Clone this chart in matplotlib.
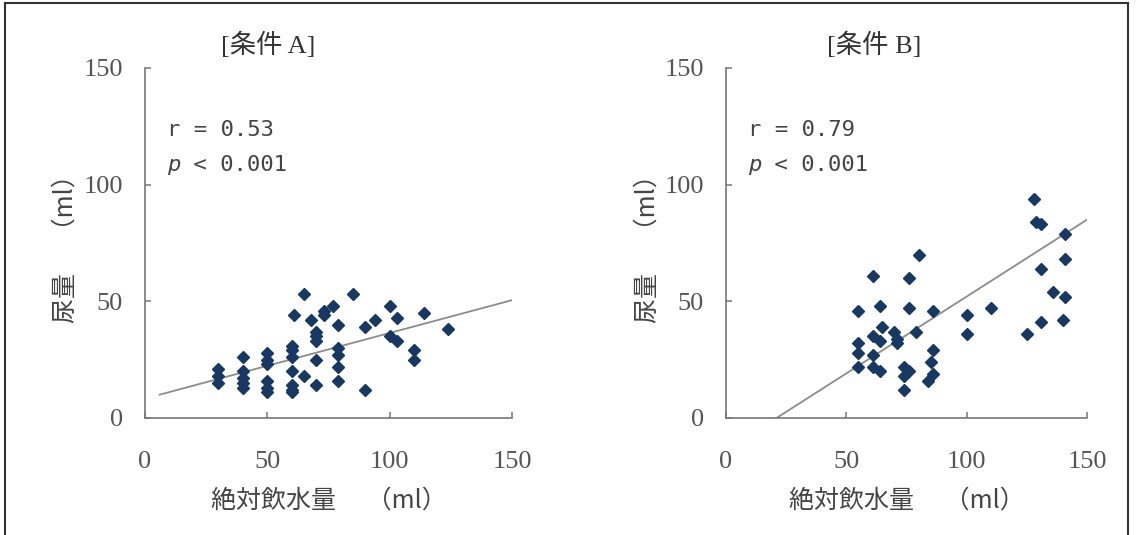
import matplotlib
matplotlib.use('Agg')
import matplotlib.pyplot as plt
from matplotlib.lines import Line2D
from matplotlib.transforms import offset_copy

plt.rcParams['font.family'] = ['Noto Sans CJK JP', 'DejaVu Sans']

# 条件A の散布データ (絶対飲水量, 尿量)
a_x = [30, 30, 30,
       40, 40, 40, 40, 40,
       50, 50, 50, 50, 50, 50,
       60, 60, 60, 60, 60, 60, 60, 61,
       65, 65, 68,
       70, 70, 70, 70, 70,
       73, 73, 77,
       79, 79, 79, 79, 79,
       85, 90, 90, 94,
       100, 100, 103, 103,
       110, 110, 114, 124]
a_y = [21, 18, 15,
       26, 20, 17, 15, 13,
       28, 25, 23, 16, 13, 11,
       31, 29, 26, 20, 14, 12, 11, 44,
       53, 18, 42,
       37, 35, 33, 25, 14,
       46, 44, 48,
       40, 30, 27, 22, 16,
       53, 39, 12, 42,
       48, 35, 43, 33,
       29, 25, 45, 38]
a_line_x = [6, 150]
a_line_y = [10, 50.5]

# 条件B
b_x = [55, 55, 55, 55,
       61, 61, 61, 61,
       64, 65, 64, 64,
       70, 71, 71,
       74, 76, 74, 74,
       76, 76, 79, 80,
       86, 86, 85, 86, 84,
       100, 100, 110,
       125, 128, 129, 131, 131, 131, 136,
       141, 141, 141, 140]
b_y = [46, 32, 28, 22,
       61, 35, 27, 22,
       48, 39, 33, 20,
       37, 34, 32,
       22, 20, 18, 12,
       60, 47, 37, 70,
       46, 29, 24, 19, 16,
       44, 36, 47,
       36, 94, 84, 83, 64, 41, 54,
       79, 68, 52, 42]
b_line_x = [21, 150]
b_line_y = [0, 85]

ticks = [0, 50, 100, 150]
W, H = 1136, 535

fig = plt.figure(figsize=(W / 100, H / 100), dpi=100)


def panel(left_px, right_px, xs, ys, lx, ly, r_text, title, title_px):
    ax = fig.add_axes([left_px / W, (H - 418) / H, (right_px - left_px) / W, 350 / H])
    ax.plot(lx, ly, color='#8c8c8c', lw=1.3, zorder=2)
    ax.plot(xs, ys, 'D', color='#163862', markersize=6, linestyle='none', zorder=3)
    ax.set_xlim(0, 150)
    ax.set_ylim(0, 150)
    ax.set_xticks(ticks)
    ax.set_yticks(ticks)
    for s in ['top', 'right']:
        ax.spines[s].set_visible(False)
    for s in ['left', 'bottom']:
        ax.spines[s].set_color('#777777')
        ax.spines[s].set_linewidth(1.2)
    ax.tick_params(direction='in', length=4, width=1.1, color='#777777',
                   labelsize=19, labelcolor='#555555')
    ax.tick_params(axis='y', pad=16)
    ax.tick_params(axis='x', pad=24)
    for lab in ax.get_xticklabels() + ax.get_yticklabels():
        lab.set_fontfamily('Liberation Serif')

    ax.set_xlabel('絶対飲水量　 （ml）', fontsize=18, color='#444444')
    ax.xaxis.set_label_coords(0.5, -0.2)
    ax.set_ylabel('尿量　 （ml）', fontsize=18, color='#444444')
    ax.yaxis.set_label_coords(-0.18, 0.5)

    # 相関係数
    ax.text(9, 123.4, r_text, family='DejaVu Sans Mono', fontsize=16,
            va='center', color='#444444')
    ax.text(9, 108.4, 'p', family='DejaVu Sans Mono', style='italic',
            fontsize=16, va='center', color='#444444')
    tr = offset_copy(ax.transData, fig=fig, x=0.602 * 16, y=0, units='points')
    ax.text(9, 108.4, ' < 0.001', family='DejaVu Sans Mono', fontsize=16,
            va='center', color='#444444', transform=tr)

    fig.text(title_px / W, 1 - 45 / H, title, fontsize=19, color='#333333',
             family=['Liberation Serif', 'Noto Sans CJK JP'],
             ha='center', va='center')
    return ax


panel(145, 512, a_x, a_y, a_line_x, a_line_y, 'r = 0.53', '[条件 A]', 268)
panel(726, 1087, b_x, b_y, b_line_x, b_line_y, 'r = 0.79', '[条件 B]', 874)

# 外枠
bc = '#333333'
fig.add_artist(Line2D([5 / W, 5 / W], [0, 1 - 3 / H], transform=fig.transFigure, color=bc, lw=1.5))
fig.add_artist(Line2D([5 / W, 1128 / W], [1 - 3 / H, 1 - 3 / H], transform=fig.transFigure, color=bc, lw=1.5))
fig.add_artist(Line2D([1128 / W, 1128 / W], [0, 1 - 3 / H], transform=fig.transFigure, color=bc, lw=1.5))

plt.savefig('out.png', dpi=100)
